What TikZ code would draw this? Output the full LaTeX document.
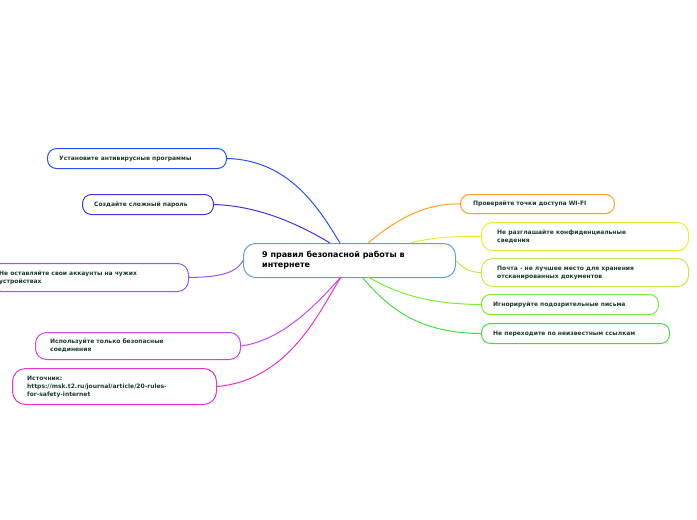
\documentclass[tikz,border=0pt]{standalone}
\usepackage{fontspec}
\setmainfont{DejaVu Sans}
\begin{document}
\begin{tikzpicture}[x=1pt,y=-1pt,
 box/.style={draw,rounded corners=9pt,line width=1pt,font=\bfseries\fontsize{6}{8}\selectfont,text=tx,align=left,inner sep=0pt,anchor=north west},
 ln/.style={line width=1pt}]
\definecolor{tx}{HTML}{1A3A2A}
\definecolor{c0}{HTML}{5AA0D8}\definecolor{c1}{HTML}{2255EE}\definecolor{c2}{HTML}{4433DD}
\definecolor{c3}{HTML}{9955EE}\definecolor{c4}{HTML}{CC44EE}\definecolor{c5}{HTML}{EE33CC}
\definecolor{c6}{HTML}{FF9F22}\definecolor{c7}{HTML}{F2E834}\definecolor{c8}{HTML}{BBEE44}
\definecolor{c9}{HTML}{77EE33}\definecolor{c10}{HTML}{44DD44}
\useasboundingbox (0,0) rectangle (697,520);
\newcommand\bx[8]{\node[box,draw=#6,minimum width=#3,minimum height=#4] (#1) at (#2) {};
 \node[anchor=west,font=\bfseries\fontsize{#8}{10}\selectfont,text=#7,align=left,inner sep=0pt] at ([xshift=#5]#1.west) {\parbox{#3pt}{#1x}};}
% center
\node[box,draw=c0,minimum width=212,minimum height=34,rounded corners=12pt] (c) at (243,243) {};
\node[anchor=west,inner sep=0pt,font=\bfseries\fontsize{8}{10}\selectfont,align=left] at ([xshift=19]c.west) {9 правил безопасной работы в\\интернете};
\coordinate (cT) at (340,243);
\coordinate (cT2) at (330,243);
\coordinate (cTR) at (368,243);
\coordinate (cTR2) at (410,243);
\coordinate (cB) at (341,277);
\coordinate (cBR) at (368,277);
\coordinate (cBR2) at (362,277);
% left nodes
\node[box,draw=c1,minimum width=179,minimum height=20] (a1) at (47,148) {};
\node[anchor=west,inner sep=0pt,font=\bfseries\fontsize{6}{8}\selectfont,text=tx] at ([xshift=12]a1.west) {Установите антивирусные программы};
\node[box,draw=c2,minimum width=131,minimum height=20] (a2) at (82,194) {};
\node[anchor=west,inner sep=0pt,font=\bfseries\fontsize{6}{8}\selectfont,text=tx] at ([xshift=12]a2.west) {Создайте сложный пароль};
\node[box,draw=c3,minimum width=198,minimum height=28,rounded corners=11pt] (a3) at (-10,263) {};
\node[anchor=west,inner sep=0pt,font=\bfseries\fontsize{6}{8}\selectfont,text=tx,align=left] at ([xshift=9]a3.west) {Не оставляйте свои аккаунты на чужих\\устройствах};
\node[box,draw=c4,minimum width=205,minimum height=27,rounded corners=11pt] (a4) at (35,332) {};
\node[anchor=west,inner sep=0pt,font=\bfseries\fontsize{6}{8}\selectfont,text=tx,align=left] at ([xshift=15]a4.west) {Используйте только безопасные\\соединения};
\node[box,draw=c5,minimum width=204,minimum height=36,rounded corners=13pt] (a5) at (12,368) {};
\node[anchor=west,inner sep=0pt,font=\bfseries\fontsize{6}{8}\selectfont,text=tx,align=left] at ([xshift=15]a5.west) {Источник:\\https://msk.t2.ru/journal/article/20-rules-\\for-safety-internet};
% right nodes
\node[box,draw=c6,minimum width=154,minimum height=19] (b1) at (460,194) {};
\node[anchor=west,inner sep=0pt,font=\bfseries\fontsize{6}{8}\selectfont,text=tx] at ([xshift=13]b1.west) {Проверяйте точки доступа WI-FI};
\node[box,draw=c7,minimum width=207,minimum height=28,rounded corners=11pt] (b2) at (481,222) {};
\node[anchor=west,inner sep=0pt,font=\bfseries\fontsize{6}{8}\selectfont,text=tx,align=left] at ([xshift=16]b2.west) {Не разглашайте конфиденциальные\\сведения};
\node[box,draw=c8,minimum width=207,minimum height=28,rounded corners=11pt] (b3) at (481,258) {};
\node[anchor=west,inner sep=0pt,font=\bfseries\fontsize{6}{8}\selectfont,text=tx,align=left] at ([xshift=16]b3.west) {Почта - не лучшее место для хранения\\отсканированных документов};
\node[box,draw=c9,minimum width=177,minimum height=20] (b4) at (481,294) {};
\node[anchor=west,inner sep=0pt,font=\bfseries\fontsize{6}{8}\selectfont,text=tx] at ([xshift=12]b4.west) {Игнорируйте подозрительные письма};
\node[box,draw=c10,minimum width=188,minimum height=20] (b5) at (481,323) {};
\node[anchor=west,inner sep=0pt,font=\bfseries\fontsize{6}{8}\selectfont,text=tx] at ([xshift=12]b5.west) {Не переходите по неизвестным ссылкам};
% connectors
\draw[ln,c1] (a1.east) .. controls (290,160) and (320,210) .. (cT);
\draw[ln,c2] (a2.east) .. controls (260,206) and (300,225) .. (cT2);
\draw[ln,c3] (a3.east) .. controls (215,277) and (235,275) .. (c.west);
\draw[ln,c4] (a4.east) .. controls (285,340) and (320,300) .. (cB);
\draw[ln,c5] (a5.east) .. controls (290,380) and (320,310) .. (cB);
\draw[ln,c6] (b1.west) .. controls (420,203) and (390,225) .. (cTR);
\draw[ln,c7] (b2.west) .. controls (450,236) and (430,238) .. (cTR2);
\draw[ln,c8] (b3.west) .. controls (470,272) and (465,270) .. (c.east);
\draw[ln,c9] (b4.west) .. controls (430,304) and (400,295) .. (cBR);
\draw[ln,c10] (b5.west) .. controls (420,333) and (390,310) .. (cBR2);
\end{tikzpicture}
\end{document}
